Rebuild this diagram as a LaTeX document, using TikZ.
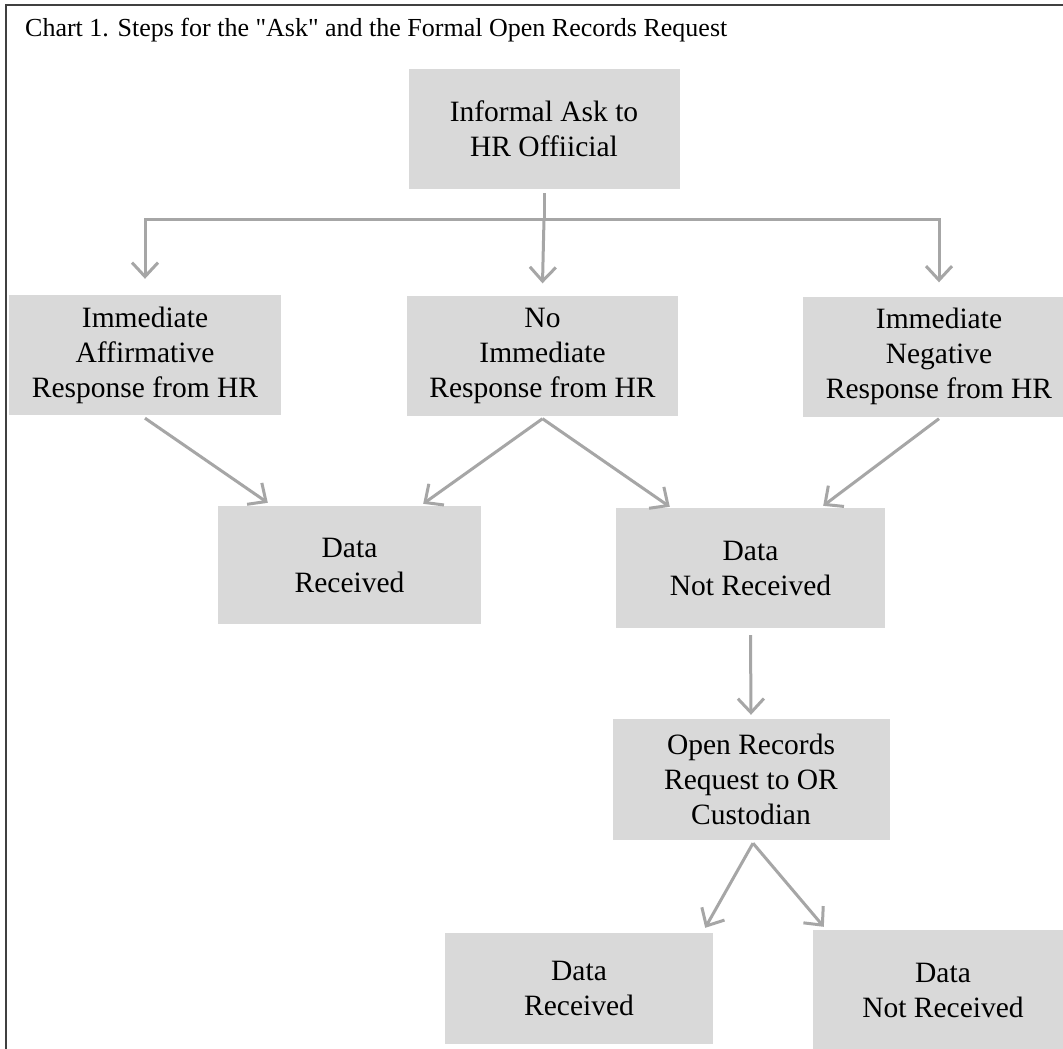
\documentclass[tikz,border=0pt]{standalone}
\usepackage{fontspec}
\setmainfont{Liberation Serif}
\newfontfamily\ttlfam[Ligatures=TeXOff]{Liberation Serif}
\usetikzlibrary{arrows.meta}
\definecolor{boxgray}{HTML}{D9D9D9}
\definecolor{linegray}{HTML}{A6A6A6}
\definecolor{framegray}{HTML}{404040}
\newcommand\bxfont{\fontsize{29.5}{35}\selectfont}
\newcommand\ttlfont{\ttlfam\fontsize{26}{30}\selectfont}
\begin{document}
\begin{tikzpicture}[x=1pt,y=-1pt,
  box/.style={fill=boxgray, draw=none, inner sep=0pt, align=center, font=\bxfont, text=black},
  conn/.style={draw=linegray, line width=3pt, -{Straight Barb[length=14pt,width=26pt,line width=3pt]}},
  plain/.style={draw=linegray, line width=3pt}]
\clip (0,0) rectangle (1063,1049);
\fill[white] (0,0) rectangle (1063,1049);
\draw[framegray, line width=2pt] (6,1060) -- (6,5) -- (1070,5);
\node[anchor=base west, font=\ttlfont, inner sep=0pt] (title) at (25,37) {Chart 1. Steps for the "Ask" and the Formal Open Records Request};
% nodes
\node[box, minimum width=271pt, minimum height=120pt] (ask) at (544,129) {Informal Ask to\\HR Offiicial};
\node[box, minimum width=272pt, minimum height=120pt] (aff) at (145,355) {Immediate\\Affirmative\\Response from HR};
\node[box, minimum width=271pt, minimum height=120pt] (nor) at (542.5,355.5) {No\\Immediate\\Response from HR};
\node[box, minimum width=272pt, minimum height=120pt] (neg) at (939,356.5) {Immediate\\Negative\\Response from HR};
\node[box, minimum width=263pt, minimum height=118pt] (dr1) at (349.5,565) {Data\\Received};
\node[box, minimum width=269pt, minimum height=120pt] (dnr1) at (750.5,568) {Data\\Not Received};
\node[box, minimum width=277pt, minimum height=121pt] (orq) at (751,779.5) {Open Records\\Request to OR\\Custodian};
\node[box, minimum width=268pt, minimum height=111pt] (dr2) at (579,988.5) {Data\\Received};
\node[box, minimum width=260pt, minimum height=120pt] (dnr2) at (943,990) {Data\\Not Received};
% connectors
\coordinate (bar) at (544,219);
\draw[plain] ([yshift=-4pt]ask.south) -- (bar);
\draw[conn] (bar) -- ([yshift=12pt]nor.north);
\draw[conn] (bar) -| ([yshift=16pt]aff.north);
\draw[conn] (bar) -| ([yshift=14pt]neg.north);
\draw[conn] ([yshift=-3pt]aff.south) -- ([xshift=50pt,yshift=3pt]dr1.north west);
\draw[conn] ([yshift=-3pt]nor.south) -- ([xshift=-58pt,yshift=2pt]dr1.north east);
\draw[conn] ([yshift=-3pt]nor.south) -- ([xshift=54pt,yshift=1pt]dnr1.north west);
\draw[conn] ([yshift=-2pt]neg.south) -- ([xshift=-62pt,yshift=2pt]dnr1.north east);
\draw[conn] ([yshift=-7pt]dnr1.south) -- ([yshift=4pt]orq.north);
\draw[conn] ([xshift=2pt,yshift=-3pt]orq.south) -- ([xshift=-8pt,yshift=5pt]dr2.north east);
\draw[conn] ([xshift=2pt,yshift=-3pt]orq.south) -- ([xshift=11pt,yshift=3pt]dnr2.north west);
\end{tikzpicture}
\end{document}
